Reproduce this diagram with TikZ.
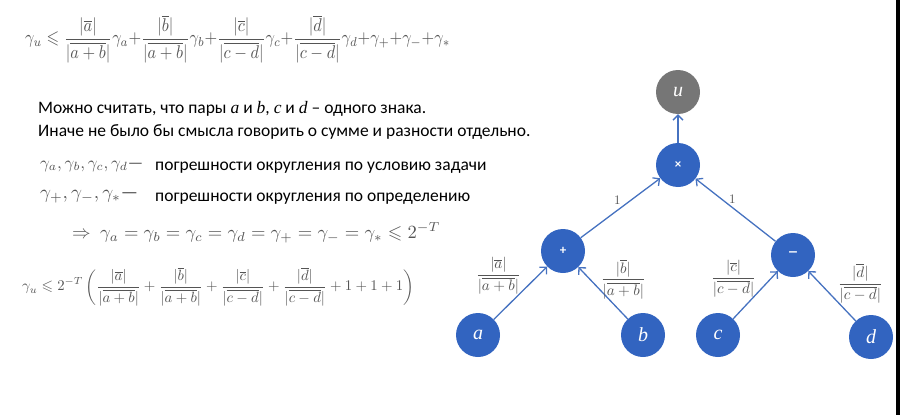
\documentclass[tikz,border=0pt]{standalone}
\usepackage{amsmath,amssymb}
\usepackage[no-math]{fontspec}
\setmainfont{Carlito}
\newfontfamily\varfont{Liberation Serif}
\usepackage{tikz}
\usetikzlibrary{arrows.meta, positioning}
\definecolor{nodeblue}{RGB}{50,100,192}
\definecolor{edgeblue}{RGB}{70,114,192}
\definecolor{outgray}{RGB}{118,118,118}
\definecolor{mathgray}{RGB}{85,85,85}

\newcommand{\fracab}[1]{\dfrac{|\overline{#1}|}{|\overline{a+b}|}}
\newcommand{\fraccd}[1]{\dfrac{|\overline{#1}|}{|\overline{c-d}|}}

\begin{document}
\begin{tikzpicture}[x=1pt, y=-1pt]
      % Styles for nodes, arcs and texts
      \tikzset{opnode/.style={circle, fill=nodeblue, text=white, minimum size=44pt, inner sep=0pt}}
      \tikzset{outnode/.style={opnode, fill=outgray}}
      \tikzset{arc/.style={draw=edgeblue, line width=1.3pt, -{Straight Barb[length=5pt, width=10pt]}}}
      \tikzset{weight/.style={text=mathgray, inner sep=0pt}}
      \tikzset{formula/.style={anchor=west, inner sep=0pt, text=mathgray}}
      \tikzset{words/.style={anchor=base west, inner sep=0pt, font=\fontsize{17.5}{20}\selectfont}}

      \useasboundingbox (0,0) rectangle (900,415);
      \fill[black] (896,0) rectangle (900,415);

      % Formulas and text on the left
      \node[formula] (topeq) at (25,39) {\resizebox*{425pt}{48pt}{$\displaystyle
        \gamma_u \leqslant \fracab{a}\gamma_a{+}\fracab{b}\gamma_b{+}\fraccd{c}\gamma_c{+}\fraccd{d}\gamma_d{+}\gamma_+{+}\gamma_-{+}\gamma_*$}};

      \node[words] (line1) at (38,113) {Можно считать, что пары {\varfont\itshape a} и {\varfont\itshape b}, {\varfont\itshape c} и {\varfont\itshape d} – одного знака.};
      \node[words] (line2) at (38,136) {Иначе не было бы смысла говорить о сумме и разности отдельно.};

      \node[formula] (gam1) at (40,166) {\resizebox{103pt}{!}{$\gamma_a, \gamma_b, \gamma_c, \gamma_d$---}};
      \node[words] (txt1) at (155,170) {погрешности округления по условию задачи};
      \node[formula] (gam2) at (40,197) {\resizebox{98pt}{!}{$\gamma_+, \gamma_-, \gamma_*$---}};
      \node[words] (txt2) at (155,201) {погрешности округления по определению};

      \node[formula] (eqall) at (72,233) {\resizebox{368pt}{!}{$\Rightarrow\ \gamma_a = \gamma_b = \gamma_c = \gamma_d = \gamma_+ = \gamma_- = \gamma_* \leqslant 2^{-T}$}};
      \node[formula] (bound) at (22,287) {\resizebox{392pt}{!}{$\displaystyle
        \gamma_u \leqslant 2^{-T}\left(\fracab{a} + \fracab{b} + \fraccd{c} + \fraccd{d} + 1 + 1 + 1\right)$}};

      % Computational graph
      \node[outnode] (u)   at (678,92)  {\fontsize{20}{20}\selectfont\varfont\itshape u};
      \node[opnode]  (mul) at (678,165) {\fontsize{13}{13}\selectfont\bfseries ×};
      \node[opnode]  (sum) at (563,251) {\fontsize{13}{13}\selectfont\bfseries +};
      \node[opnode]  (dif) at (793,255) {\fontsize{22}{22}\selectfont –};
      \node[opnode]  (a)   at (478,335) {\fontsize{20}{20}\selectfont\varfont\itshape a};
      \node[opnode]  (b)   at (643,335) {\fontsize{20}{20}\selectfont\varfont\itshape b};
      \node[opnode]  (c)   at (718,335) {\fontsize{20}{20}\selectfont\varfont\itshape c};
      \node[opnode]  (d)   at (871,337) {\fontsize{20}{20}\selectfont\varfont\itshape d};

      \draw[arc] (mul) -- (u);
      \draw[arc] (sum) -- node[weight, pos=0.46, above=5pt] {\scalebox{1.3}{$1$}} (mul);
      \draw[arc] (dif) -- node[weight, pos=0.54, above=3pt] {\scalebox{1.3}{$1$}} (mul);
      \draw[arc] (a) -- node[weight, pos=0.82, left=16pt] {\resizebox{45pt}{!}{$\fracab{a}$}} (sum);
      \draw[arc] (b) -- node[weight, pos=0.76, right=10pt] {\resizebox{45pt}{!}{$\fracab{b}$}} (sum);
      \draw[arc] (c) -- node[weight, pos=0.84, left=14pt] {\resizebox{45pt}{!}{$\fraccd{c}$}} (dif);
      \draw[arc] (d) -- node[weight, pos=0.75, right=17pt] {\resizebox{45pt}{!}{$\fraccd{d}$}} (dif);
\end{tikzpicture}
\end{document}
